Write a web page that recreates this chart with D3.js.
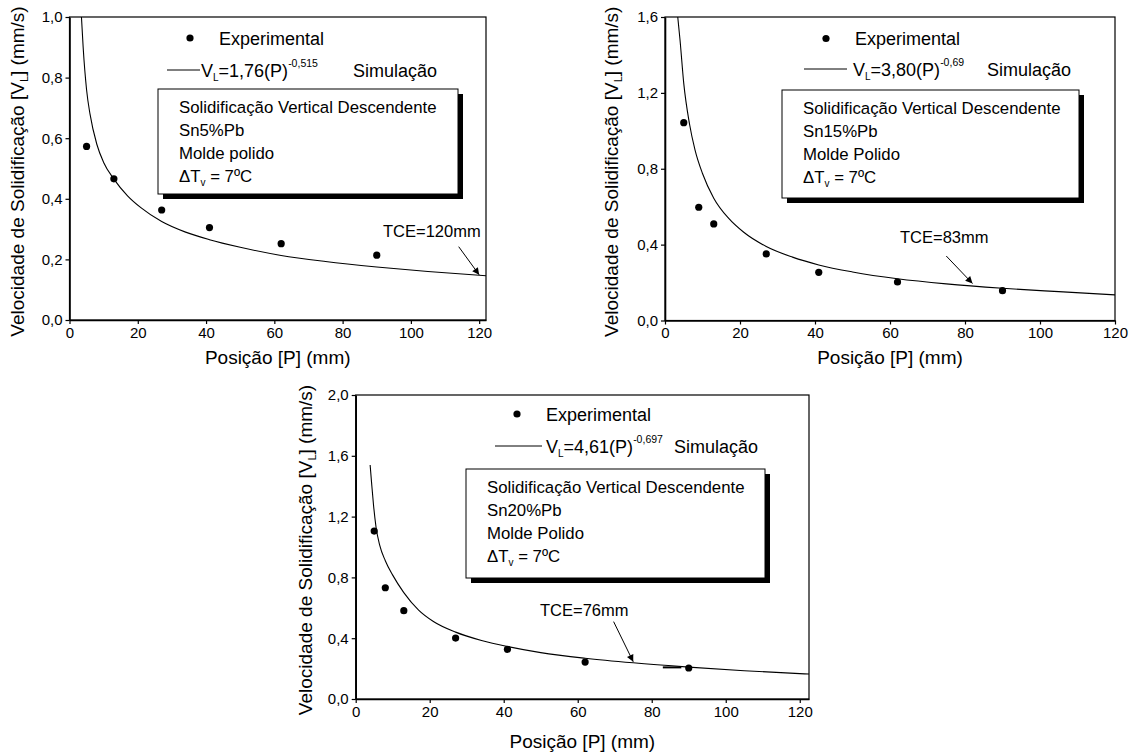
<!DOCTYPE html>
<html>
<head>
<meta charset="utf-8">
<script src="https://cdn.jsdelivr.net/npm/d3@7"></script>
<style>
  body { margin: 0; background: #fff; }
  svg { font-family: "Liberation Sans", Arial, sans-serif; }
</style>
</head>
<body>
<svg id="chart" width="1132" height="756"></svg>
<script>
// Experimental points and simulated curves
const expP1 = [5, 13, 27, 41, 62, 90];
const expV1 = [0.573, 0.466, 0.363, 0.305, 0.252, 0.214];
const simP1 = [3.5, 4, 5, 6, 8, 10, 13, 17, 21, 27, 34, 41, 50, 62, 75, 90, 105, 122];
const simV1 = [1.0, 0.9, 0.76, 0.68, 0.58, 0.52, 0.465, 0.41, 0.37, 0.325, 0.29, 0.265, 0.24, 0.213, 0.193, 0.175, 0.16, 0.146];

const expP2 = [5, 9, 13, 27, 41, 62, 90];
const expV2 = [1.043, 0.597, 0.509, 0.351, 0.254, 0.203, 0.157];
const simP2 = [3.4, 4, 5, 6.5, 8, 10, 13, 17, 21, 27, 34, 41, 50, 62, 75, 90, 105, 120];
const simV2 = [1.6, 1.48, 1.25, 1.04, 0.90, 0.775, 0.645, 0.538, 0.465, 0.39, 0.334, 0.293, 0.256, 0.22, 0.193, 0.17, 0.152, 0.135];

const expP3 = [5, 8, 13, 27, 41, 62, 90];
const expV3 = [1.105, 0.732, 0.581, 0.401, 0.327, 0.243, 0.204];
const simP3 = [3.9, 4.3, 4.8, 5.5, 6.5, 8, 10, 13, 17, 21, 27, 34, 41, 50, 62, 75, 90, 105, 122.5];
const simV3 = [1.54, 1.42, 1.28, 1.13, 1.01, 0.91, 0.815, 0.70, 0.585, 0.51, 0.44, 0.385, 0.345, 0.305, 0.268, 0.238, 0.21, 0.186, 0.164];

// tick labels
const xTicks = [0, 20, 40, 60, 80, 100, 120];
const yTicks1 = [0, 0.2, 0.4, 0.6, 0.8, 1.0];
const yTicks2 = [0, 0.4, 0.8, 1.2, 1.6];
const yTicks3 = [0, 0.4, 0.8, 1.2, 1.6, 2.0];

// text of the legends and boxes
const formulas = [["1,76", "-0,515"], ["3,80", "-0,69"], ["4,61", "-0,697"]];
const alloys = ["Sn5%Pb", "Sn15%Pb", "Sn20%Pb"];
const molds = ["Molde polido", "Molde Polido", "Molde Polido"];
const tceLabels = ["TCE=120mm", "TCE=83mm", "TCE=76mm"];
// arrow from / to, in data units
const tceFrom = [[114, 0.242], [75, 0.34], [69.7, 0.509]];
const tceTo = [[120, 0.149], [82, 0.195], [75, 0.245]];

const svg = d3.select('#chart');
const defs = svg.append('defs');
defs.append('marker')
  .attr('id', 'arrow')
  .attr('viewBox', '0 0 10 10')
  .attr('refX', 10).attr('refY', 5)
  .attr('markerWidth', 9).attr('markerHeight', 7)
  .attr('markerUnits', 'userSpaceOnUse')
  .attr('orient', 'auto')
  .append('path').attr('d', 'M0,0 L10,5 L0,10 z').attr('fill', '#000');

const fmtY = d => d3.format('.1f')(d).replace('.', ',');

function drawPanel(c) {
  const x = d3.scaleLinear().domain([0, c.xMax]).range([c.left, c.right]);
  const y = d3.scaleLinear().domain([0, c.yMax]).range([c.bottom, c.top]);
  const g = svg.append('g');

  // frame
  g.append('rect')
    .attr('x', c.left).attr('y', c.top)
    .attr('width', c.right - c.left).attr('height', c.bottom - c.top)
    .attr('fill', 'none').attr('stroke', '#000').attr('stroke-width', 1.2);

  const xa = g.append('g')
    .attr('transform', `translate(0,${c.bottom})`)
    .call(d3.axisBottom(x).tickValues(xTicks).tickSize(4).tickSizeOuter(0).tickPadding(3));
  const ya = g.append('g')
    .attr('transform', `translate(${c.left},0)`)
    .call(d3.axisLeft(y).tickValues(c.yTicks).tickSize(4).tickSizeOuter(0).tickPadding(3).tickFormat(fmtY));
  [xa, ya].forEach(a => {
    a.selectAll('text').attr('font-size', 15).attr('fill', '#000')
      .attr('font-family', '"Liberation Sans", Arial, sans-serif');
    a.selectAll('line').attr('stroke', '#000').attr('stroke-width', 1.2);
    a.select('.domain').attr('stroke', '#000').attr('stroke-width', 1.6);
  });

  // axis titles
  g.append('text')
    .attr('x', (c.left + c.right) / 2).attr('y', c.xTitleY)
    .attr('text-anchor', 'middle').attr('font-size', 19)
    .text('Posição [P] (mm)');
  const yt = g.append('text')
    .attr('transform', `translate(${c.yTitleX},${(c.top + c.bottom) / 2 + 3}) rotate(-90)`)
    .attr('text-anchor', 'middle').attr('font-size', 19);
  yt.append('tspan').text('Velocidade de Solidificação [V');
  yt.append('tspan').attr('font-size', 11).attr('dy', 4).text('L');
  yt.append('tspan').attr('dy', -4).text('] (mm/s)');

  // simulated curve, clipped to plot
  const clipId = 'clip' + c.id;
  defs.append('clipPath').attr('id', clipId)
    .append('rect').attr('x', c.left).attr('y', c.top)
    .attr('width', c.right - c.left).attr('height', c.bottom - c.top);
  const line = d3.line().x(d => x(d[0])).y(d => y(d[1])).curve(d3.curveMonotoneX);
  g.append('path')
    .datum(d3.zip(c.simP, c.simV))
    .attr('clip-path', `url(#${clipId})`)
    .attr('d', line)
    .attr('fill', 'none').attr('stroke', '#000').attr('stroke-width', 1.1);

  // experimental points
  g.selectAll('circle.pt')
    .data(d3.zip(c.expP, c.expV))
    .enter().append('circle')
    .attr('class', 'pt')
    .attr('cx', d => x(d[0])).attr('cy', d => y(d[1]))
    .attr('r', 3.6).attr('fill', '#000');

  // legend
  const L = c.legend;
  g.append('circle').attr('cx', L.dotX).attr('cy', L.dotY).attr('r', 3.6).attr('fill', '#000');
  g.append('text').attr('x', L.textX).attr('y', L.dotY + 6.5).attr('font-size', 18).text('Experimental');
  g.append('line').attr('x1', L.lineX1).attr('x2', L.lineX2)
    .attr('y1', L.lineY).attr('y2', L.lineY).attr('stroke', '#000').attr('stroke-width', 1);
  const ft = g.append('text').attr('x', L.formX).attr('y', L.lineY + 6.5).attr('font-size', 18);
  ft.append('tspan').text('V');
  ft.append('tspan').attr('font-size', 10).attr('dy', 4).text('L');
  ft.append('tspan').attr('dy', -4).text('=' + c.formula[0] + '(P)');
  ft.append('tspan').attr('font-size', 10.5).attr('dy', -10).text(c.formula[1]);
  g.append('text').attr('x', L.simX).attr('y', L.lineY + 6.5).attr('font-size', 18).text('Simulação');

  // info box with shadow
  const B = c.box;
  g.append('rect').attr('x', B.x + 5).attr('y', B.y + 5)
    .attr('width', B.w).attr('height', B.h).attr('fill', '#000');
  g.append('rect').attr('x', B.x).attr('y', B.y)
    .attr('width', B.w).attr('height', B.h)
    .attr('fill', '#fff').attr('stroke', '#000').attr('stroke-width', 1);
  const lines = ['Solidificação Vertical Descendente', c.alloy, c.mold];
  lines.forEach((t, i) => {
    g.append('text').attr('x', B.x + 21).attr('y', B.y + 24 + i * 23)
      .attr('font-size', 16.8).text(t);
  });
  const dt = g.append('text').attr('x', B.x + 21).attr('y', B.y + 24 + 3 * 23).attr('font-size', 16.8);
  dt.append('tspan').text('ΔT');
  dt.append('tspan').attr('font-size', 10).attr('dy', 4).text('v');
  dt.append('tspan').attr('dy', -4).text(' = 7ºC');

  // TCE annotation
  g.append('text').attr('x', c.tceX).attr('y', c.tceY).attr('font-size', 16.5).text(c.tce);
  g.append('line')
    .attr('x1', x(c.tceFrom[0])).attr('y1', y(c.tceFrom[1]))
    .attr('x2', x(c.tceTo[0])).attr('y2', y(c.tceTo[1]))
    .attr('stroke', '#000').attr('stroke-width', 1)
    .attr('marker-end', 'url(#arrow)');

  if (c.dash) {
    g.append('line')
      .attr('x1', x(c.dash[0])).attr('x2', x(c.dash[1]))
      .attr('y1', y(c.dash[2])).attr('y2', y(c.dash[2]))
      .attr('stroke', '#000').attr('stroke-width', 2);
  }
}

drawPanel({
  id: 1, left: 69.5, right: 486, top: 17, bottom: 320, xMax: 122, yMax: 1.0, yTicks: yTicks1,
  xTitleY: 364, yTitleX: 24,
  expP: expP1, expV: expV1, simP: simP1, simV: simV1,
  formula: formulas[0], alloy: alloys[0], mold: molds[0],
  legend: { dotX: 190, dotY: 38, textX: 219, lineX1: 167, lineX2: 200, lineY: 70, formX: 201, simX: 353 },
  box: { x: 158, y: 89, w: 300, h: 105 },
  tce: tceLabels[0], tceX: 383, tceY: 237, tceFrom: tceFrom[0], tceTo: tceTo[0]
});

drawPanel({
  id: 2, left: 665, right: 1115, top: 17, bottom: 320.5, xMax: 120, yMax: 1.6, yTicks: yTicks2,
  xTitleY: 364, yTitleX: 618,
  expP: expP2, expV: expV2, simP: simP2, simV: simV2,
  formula: formulas[1], alloy: alloys[1], mold: molds[1],
  legend: { dotX: 826, dotY: 38.5, textX: 855, lineX1: 804, lineX2: 847, lineY: 69, formX: 853, simX: 987 },
  box: { x: 782, y: 90, w: 297, h: 108 },
  tce: tceLabels[1], tceX: 900, tceY: 243, tceFrom: tceFrom[1], tceTo: tceTo[1]
});

drawPanel({
  id: 3, left: 355.7, right: 809, top: 395, bottom: 699, xMax: 122.5, yMax: 2.0, yTicks: yTicks3,
  xTitleY: 748, yTitleX: 312,
  expP: expP3, expV: expV3, simP: simP3, simV: simV3,
  formula: formulas[2], alloy: alloys[2], mold: molds[2],
  legend: { dotX: 517, dotY: 414, textX: 546, lineX1: 495, lineX2: 542, lineY: 446, formX: 546, simX: 674 },
  box: { x: 466, y: 469, w: 299, h: 109 },
  tce: tceLabels[2], tceX: 540, tceY: 616, tceFrom: tceFrom[2], tceTo: tceTo[2],
  dash: [83, 88, 0.208]
});
</script>
</body>
</html>
